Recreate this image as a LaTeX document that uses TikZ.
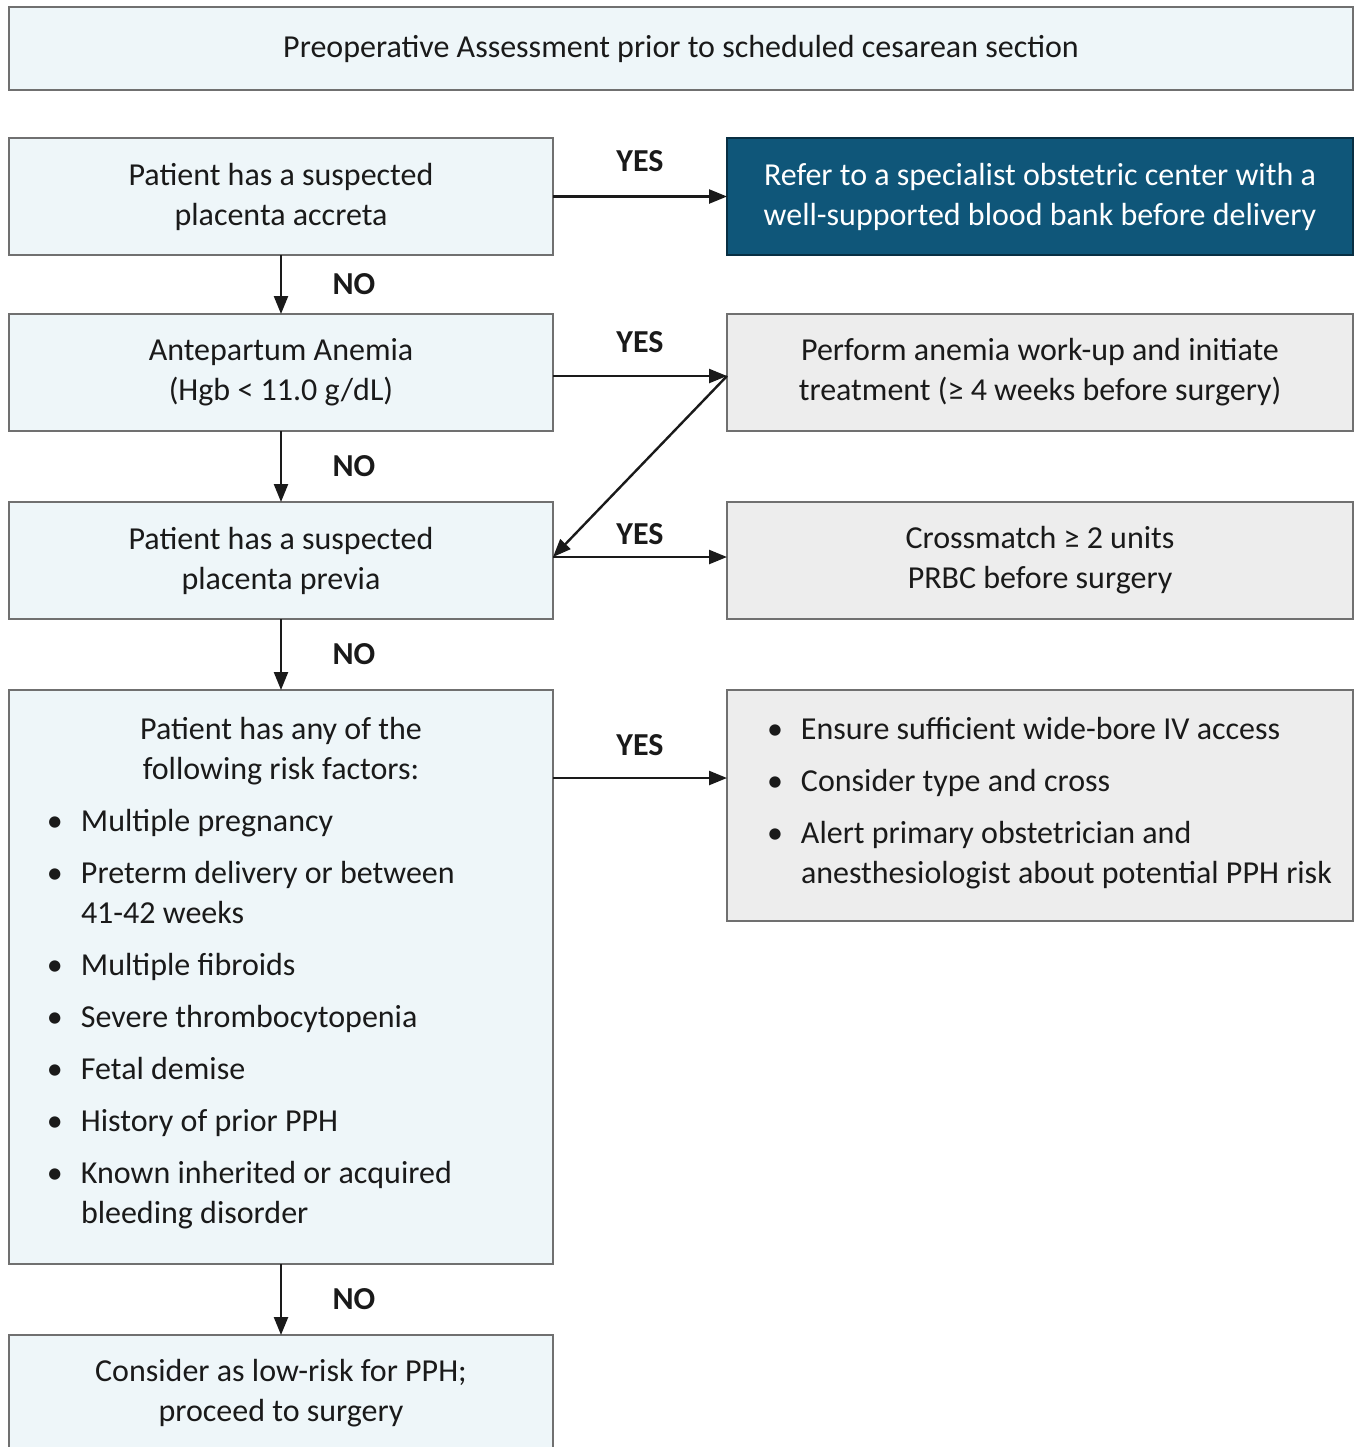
\documentclass[tikz,border=0pt]{standalone}
\usepackage{fontspec}
\setmainfont{Carlito}
\usetikzlibrary{positioning,arrows.meta}

\definecolor{boxblue}{HTML}{EEF6F9}
\definecolor{boxgray}{HTML}{EDEDED}
\definecolor{deepblue}{HTML}{0F5679}
\definecolor{edgegray}{HTML}{707070}
\definecolor{ink}{HTML}{1A1A1A}

\tikzset{
  qbox/.style={draw=edgegray,fill=boxblue,line width=0.75pt,minimum width=272pt,minimum height=58.5pt,
    align=center,text=ink,font=\fontsize{16}{20}\selectfont,inner sep=2pt,outer sep=0pt},
  actbox/.style={qbox,fill=boxgray,minimum width=313pt},
  referbox/.style={actbox,fill=deepblue,draw=deepblue!55!black,text=white},
  flow/.style={-{Triangle[length=9pt,width=7pt]},line width=1.2pt,draw=ink},
  ans/.style={font=\fontsize{16}{20}\selectfont\bfseries,text=ink}
}

\begin{document}
\begin{tikzpicture}
\useasboundingbox (0,0) rectangle (677pt,-723.5pt);

\node[qbox,minimum width=672pt,minimum height=41.5pt,anchor=north west](pre) at (4.5pt,-3.5pt)
  {Preoperative Assessment prior to scheduled cesarean section};

% left column
\node[qbox,below right=24pt and 0pt of pre.south west](accreta){Patient has a suspected\\placenta accreta};
\node[qbox,below=29.5pt of accreta](anemia){Antepartum Anemia\\(Hgb < 11.0 g/dL)};
\node[qbox,below=35.5pt of anemia](previa){Patient has a suspected\\placenta previa};
\node[qbox,below=35.5pt of previa,minimum height=287pt](risk){%
  \begin{tabular}{@{\hspace{17pt}}p{17pt}@{}p{234pt}@{}}
  \multicolumn{2}{c}{Patient has any of the}\\
  \multicolumn{2}{c}{following risk factors:}\\[6pt]
  \textbullet & Multiple pregnancy\\[6pt]
  \textbullet & Preterm delivery or between\newline 41-42 weeks\\[6pt]
  \textbullet & Multiple fibroids\\[6pt]
  \textbullet & Severe thrombocytopenia\\[6pt]
  \textbullet & Fetal demise\\[6pt]
  \textbullet & History of prior PPH\\[6pt]
  \textbullet & Known inherited or acquired\newline bleeding disorder\\[4pt]
  \end{tabular}};
\node[qbox,below=35.5pt of risk](lowrisk){Consider as low-risk for PPH;\\proceed to surgery};

% right column
\node[referbox,right=87pt of accreta](refer){Refer to a specialist obstetric center with a\\well-supported blood bank before delivery};
\node[actbox,right=87pt of anemia](workup){Perform anemia work-up and initiate\\treatment (≥ 4 weeks before surgery)};
\node[actbox,right=87pt of previa](cross){Crossmatch ≥ 2 units\\PRBC before surgery};
\node[actbox,below right=0pt and 87pt of risk.north east,minimum height=115.5pt](access){%
  \begin{tabular}{@{\hspace{18pt}}p{17pt}@{}p{274pt}@{}}
  \textbullet & Ensure sufficient wide-bore IV access\\[6pt]
  \textbullet & Consider type and cross\\[6pt]
  \textbullet & Alert primary obstetrician and\newline anesthesiologist about potential PPH risk\\[2pt]
  \end{tabular}};

\draw[flow] (accreta) -- (refer) node[ans,midway,yshift=17.5pt]{YES};
\draw[flow] ([yshift=-1.75pt]anemia.east) -- ([yshift=-1.75pt]workup.west) node[ans,midway,yshift=17pt]{YES};
\draw[flow] ([yshift=-1.75pt]workup.west) -- ([yshift=1.75pt]previa.east);
\draw[flow] ([yshift=1.75pt]previa.east) -- ([yshift=1.75pt]cross.west) node[ans,midway,yshift=11.5pt]{YES};
\draw[flow] ([yshift=-44pt]risk.north east) -- ([yshift=-44pt]access.north west) node[ans,midway,yshift=16.5pt]{YES};

\draw[flow] (accreta) -- (anemia) node[ans,midway,xshift=36.5pt]{NO};
\draw[flow] (anemia) -- (previa) node[ans,midway,xshift=36.5pt]{NO};
\draw[flow] (previa) -- (risk) node[ans,midway,xshift=36.5pt]{NO};
\draw[flow] (risk) -- (lowrisk) node[ans,midway,xshift=36.5pt]{NO};

\end{tikzpicture}
\end{document}
